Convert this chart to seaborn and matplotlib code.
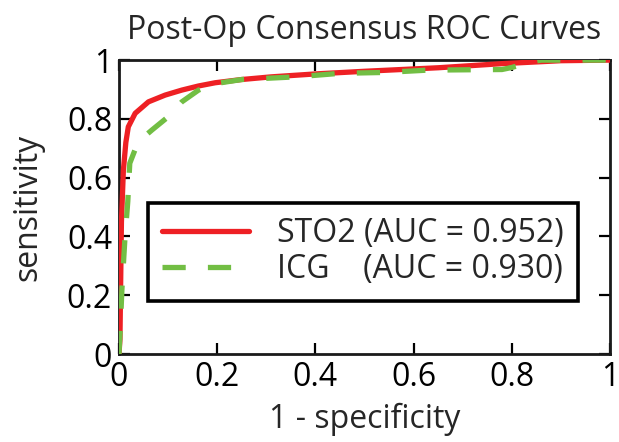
import matplotlib
matplotlib.use("Agg")
import matplotlib.pyplot as plt
import seaborn as sns
import pandas as pd

# ---- data ----
sto2_fpr = [0, 0.002, 0.005, 0.009, 0.014, 0.019, 0.033, 0.06, 0.094, 0.128, 0.162, 0.196,
            0.25, 0.31, 0.4, 0.5, 0.65, 0.78, 0.9, 1.0]
sto2_tpr = [0, 0.05, 0.45, 0.626, 0.72, 0.773, 0.819, 0.858, 0.881, 0.898, 0.912, 0.923,
            0.934, 0.943, 0.953, 0.962, 0.974, 0.988, 0.998, 1.0]

icg_fpr = [0, 0.003, 0.006, 0.012, 0.018, 0.022, 0.039, 0.067, 0.10, 0.128, 0.162, 0.196,
           0.25, 0.36, 0.45, 0.54, 0.63, 0.78, 0.80, 0.84, 0.86, 1.0]
icg_tpr = [0, 0.1, 0.22, 0.39, 0.52, 0.649, 0.722, 0.762, 0.807, 0.858, 0.898, 0.92,
           0.934, 0.943, 0.955, 0.958, 0.966, 0.968, 0.975, 0.994, 1.0, 1.0]

labels = ["STO2 (AUC = 0.952)", "ICG    (AUC = 0.930)"]
ticks = [0, 0.2, 0.4, 0.6, 0.8, 1]
tick_labels = ["0", "0.2", "0.4", "0.6", "0.8", "1"]

sns.set_style("white")
plt.rcParams["font.family"] = ["Open Sans", "DejaVu Sans"]

fig = plt.figure(figsize=(6.19, 4.42), dpi=100)
ax = fig.add_axes([0.1922, 0.199, 0.7933, 0.665])

df_s = pd.DataFrame({"fpr": sto2_fpr, "tpr": sto2_tpr})
df_i = pd.DataFrame({"fpr": icg_fpr, "tpr": icg_tpr})

sns.lineplot(data=df_s, x="fpr", y="tpr", ax=ax, sort=False, estimator=None,
             color="#EE2024", lw=3.8, label=labels[0], zorder=3)
sns.lineplot(data=df_i, x="fpr", y="tpr", ax=ax, sort=False, estimator=None,
             color="#72BE44", lw=3.8, label=labels[1], zorder=4)
ax.lines[1].set_linestyle((0, (4.4, 4.2)))

ax.set_xlim(0, 1)
ax.set_ylim(0, 1)
ax.set_xticks(ticks)
ax.set_xticklabels(tick_labels)
ax.set_yticks(ticks)
ax.set_yticklabels(tick_labels)
ax.tick_params(direction="in", length=8, width=1.6, labelsize=23, colors="black",
               top=True, right=True, bottom=True, left=True, pad=5)
for s in ax.spines.values():
    s.set_visible(True)
    s.set_color("#1a1a1a")
    s.set_linewidth(2)

ax.set_xlabel("1 - specificity", fontsize=23, labelpad=6)
ax.set_ylabel("sensitivity", fontsize=23, labelpad=16)
ax.set_title("Post-Op Consensus ROC Curves", fontsize=23, pad=15)

leg = ax.legend(loc="upper left", bbox_to_anchor=(0.059, 0.515),
                fontsize=23, frameon=True, fancybox=False, framealpha=1,
                edgecolor="black", handlelength=2.7, handletextpad=0.9,
                borderpad=0.45, labelspacing=0.1, borderaxespad=0)
leg.get_frame().set_linewidth(2.6)

fig.savefig("out.png", dpi=100)
